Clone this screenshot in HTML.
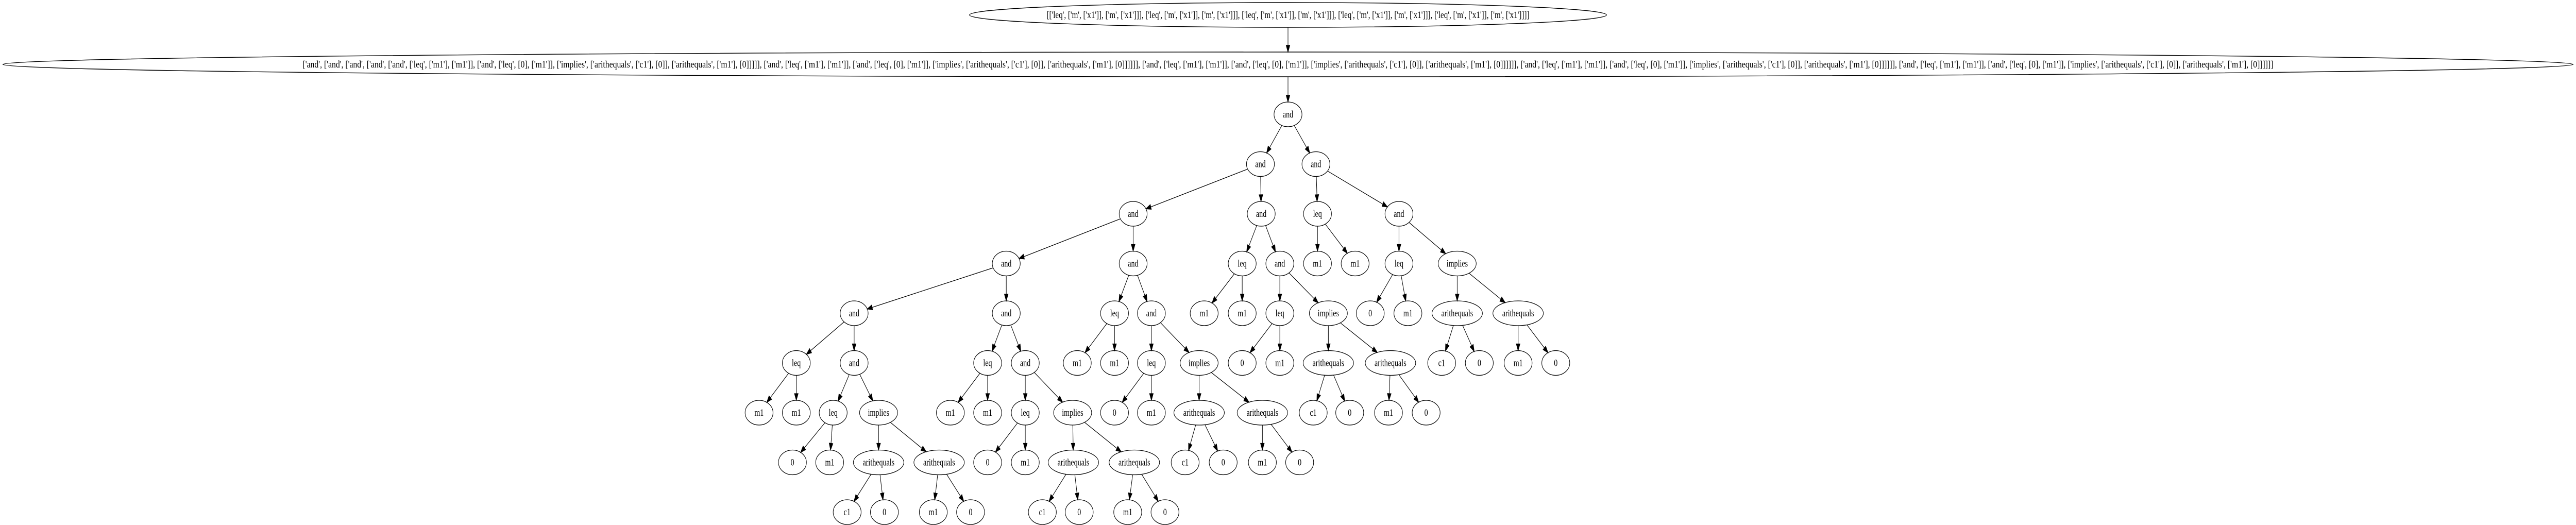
<!DOCTYPE html>
<html><head><meta charset="utf-8">
<meta name="viewport" content="width=device-width, initial-scale=1">
<style>
html,body{margin:0;padding:0;background:#fff;width:100%;height:100%;overflow:hidden;}
svg{display:block;width:100vw;height:100vh;}
text{font-family:"Liberation Serif",serif;font-size:18.67px;fill:#000;}
</style></head>
<body>
<svg id="s" xmlns="http://www.w3.org/2000/svg" viewBox="0 0 6638 1019" preserveAspectRatio="none" overflow="hidden">
<rect width="6638" height="1019" fill="#fff"/>
<ellipse cx="3319" cy="29" rx="821" ry="24" fill="none" stroke="#000" stroke-width="1.4"/>
<text x="3319" y="35" text-anchor="middle" textLength="1244" lengthAdjust="spacingAndGlyphs">[['leq', ['m', ['x1']], ['m', ['x1']]], ['leq', ['m', ['x1']], ['m', ['x1']]], ['leq', ['m', ['x1']], ['m', ['x1']]], ['leq', ['m', ['x1']], ['m', ['x1']]], ['leq', ['m', ['x1']], ['m', ['x1']]]]</text>
<ellipse cx="3319" cy="125" rx="3312" ry="24" fill="none" stroke="#000" stroke-width="1.4"/>
<text id="t2" x="3319" y="131" text-anchor="middle" textLength="5078" lengthAdjust="spacingAndGlyphs"></text>
<g id="g"></g>
</svg>
<script>
var S="['and', ['leq', ['m1'], ['m1']], ['and', ['leq', [0], ['m1']], ['implies', ['arithequals', ['c1'], [0]], ['arithequals', ['m1'], [0]]]]]";
document.getElementById('t2').textContent="['and', ['and', ['and', ['and', "+S+", "+S+"], "+S+"], "+S+"], "+S+"]";
function Y(l){return 222+96.5*l;}
var N={}, E=[];
function n(id,label,x,l){var rx=label=='arithequals'?65:(label=='implies'?49:36);N[id]={l:label,x:x,y:Y(l),rx:rx,ry:24};}
function e(a,b){E.push([a,b]);}
N.top={x:3319,y:29,rx:821,ry:24};N.sec={x:3319,y:125,rx:3312,ry:24};
n('root','and',3319,0);
function sub(p,ax,al,leqx,m1a,m1b,andx,leq2x,z,m,impx,a1x,c1x,z1x,a2x,m2x,z2x){
 n(p,'and',ax,al);
 n(p+'L','leq',leqx,al+1);n(p+'La','m1',m1a,al+2);n(p+'Lb','m1',m1b,al+2);
 n(p+'A','and',andx,al+1);
 n(p+'AL','leq',leq2x,al+2);n(p+'ALa','0',z,al+3);n(p+'ALb','m1',m,al+3);
 n(p+'AI','implies',impx,al+2);
 n(p+'A1','arithequals',a1x,al+3);n(p+'A1a','c1',c1x,al+4);n(p+'A1b','0',z1x,al+4);
 n(p+'A2','arithequals',a2x,al+3);n(p+'A2a','m1',m2x,al+4);n(p+'A2b','0',z2x,al+4);
 e(p,p+'L');e(p+'L',p+'La');e(p+'L',p+'Lb');e(p,p+'A');e(p+'A',p+'AL');e(p+'AL',p+'ALa');e(p+'AL',p+'ALb');
 e(p+'A',p+'AI');e(p+'AI',p+'A1');e(p+'A1',p+'A1a');e(p+'A1',p+'A1b');e(p+'AI',p+'A2');e(p+'A2',p+'A2a');e(p+'A2',p+'A2b');
}
n('A','and',3248,1);n('B','and',2920,2);n('C','and',2593,3);
sub('H',3391,1,3395,3395,3492,3605,3605,3531,3628,3755,3755,3715,3812,3912,3912,4009);
sub('G',3250,2,3201,3103,3201,3298,3298,3201,3298,3423,3423,3384,3478,3583,3578,3675);
sub('F',2920,3,2872,2776,2872,2967,2967,2872,2967,3090,3090,3054,3152,3253,3253,3349);
sub('E',2593,4,2545,2449,2545,2642,2642,2545,2642,2764,2766,2686,2781,2923,2906,3002);
sub('D',2201,4,2052,1956,2052,2201,2147,2042,2138,2264,2264,2183,2279,2420,2405,2501);
e('top','sec');e('sec','root');e('root','A');e('root','H');e('A','B');e('A','G');e('B','C');e('B','F');e('C','D');e('C','E');
var g=document.getElementById('g'),h='';
function hit(nd,dx,dy){return 1/Math.sqrt((dx*dx)/(nd.rx*nd.rx)+(dy*dy)/(nd.ry*nd.ry));}
E.forEach(function(p){var a=N[p[0]],b=N[p[1]];var dx=b.x-a.x,dy=b.y-a.y;var L=Math.sqrt(dx*dx+dy*dy);
 var ta=hit(a,dx,dy),tb=hit(b,dx,dy);
 var sx=a.x+dx*ta,sy=a.y+dy*ta,ex=b.x-dx*tb,ey=b.y-dy*tb;
 var ux=dx/L,uy=dy/L,al=13,aw=4.7;
 var bx=ex-ux*al,by=ey-uy*al;
 h+='<line x1="'+sx+'" y1="'+sy+'" x2="'+bx+'" y2="'+by+'" stroke="#000" stroke-width="1.3"/>';
 h+='<polygon points="'+ex+','+ey+' '+(bx-uy*aw)+','+(by+ux*aw)+' '+(bx+uy*aw)+','+(by-ux*aw)+'" fill="#000" stroke="#000" stroke-width="1.3"/>';
});
for(var k in N){var d=N[k];if(!d.l)continue;
 h+='<ellipse cx="'+d.x+'" cy="'+d.y+'" rx="'+d.rx+'" ry="'+d.ry+'" fill="none" stroke="#000" stroke-width="1.3"/>';
 h+='<text x="'+d.x+'" y="'+(d.y+6)+'" text-anchor="middle">'+d.l+'</text>';}
g.innerHTML=h;
</script>
</body></html>
